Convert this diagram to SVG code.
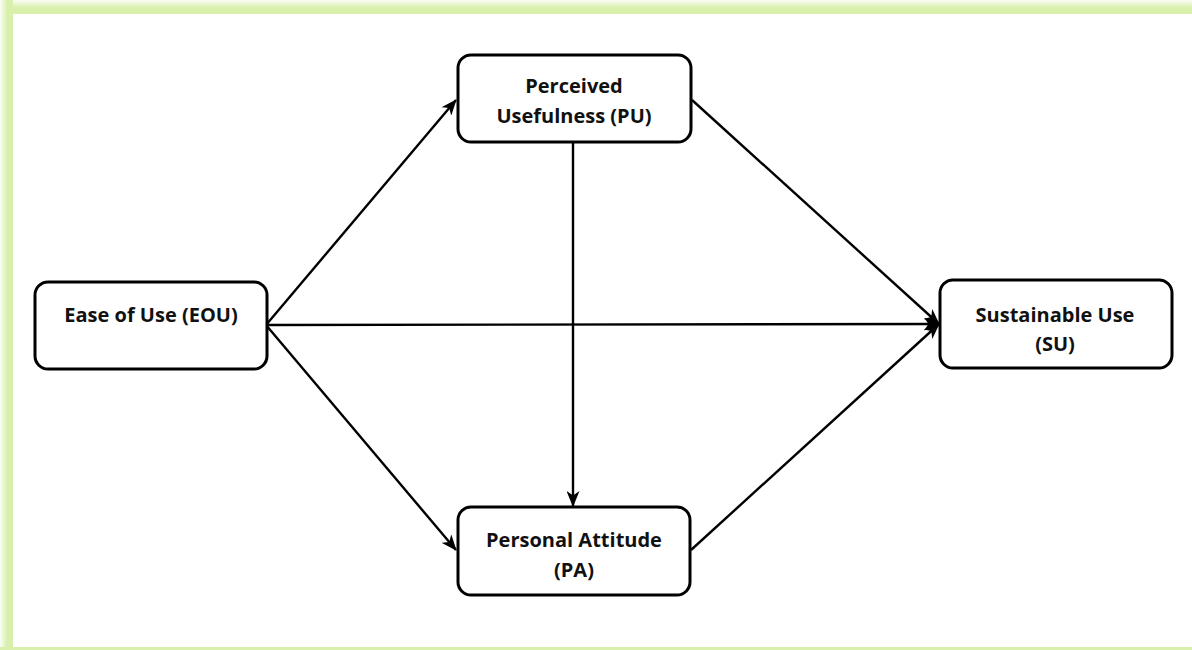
<svg xmlns="http://www.w3.org/2000/svg" width="1192" height="650" viewBox="0 0 1192 650">
<defs>
<linearGradient id="gt" x1="0" y1="0" x2="0" y2="1"><stop offset="0" stop-color="#fbfdf6"/><stop offset="0.55" stop-color="#d8f0ac"/><stop offset="1" stop-color="#d8f0ac"/></linearGradient>
<linearGradient id="gl" x1="0" y1="0" x2="1" y2="0"><stop offset="0" stop-color="#fbfdf6"/><stop offset="0.55" stop-color="#d8f0ac"/><stop offset="1" stop-color="#d8f0ac"/></linearGradient>
<marker id="arr" viewBox="0 0 16 13" markerWidth="16" markerHeight="13" refX="15" refY="6.5" orient="auto" markerUnits="userSpaceOnUse">
<path d="M0,0 L16,6.5 L0,13 L4.5,6.5 Z" fill="#000"/>
</marker>
</defs>
<style>
.node rect{fill:#fff;stroke:#000;stroke-width:3}
.node text{font-family:"Open Sans","Liberation Sans",sans-serif;font-weight:bold;font-size:20px;fill:#111;text-anchor:middle}
.conn line{stroke:#000;stroke-width:2.4;marker-end:url(#arr)}
</style>
<rect x="0" y="0" width="1192" height="650" fill="#fff"/>
<rect x="0" y="0" width="1192" height="14" fill="url(#gt)"/>
<rect x="0" y="0" width="13" height="650" fill="url(#gl)"/>
<rect x="0" y="647" width="1192" height="3" fill="#d8f0ac"/>
<rect x="13" y="14" width="1400" height="633" rx="4" fill="#fff"/>
<g class="conn">
<line x1="266" y1="325" x2="456" y2="100"/>
<line x1="266" y1="325" x2="939" y2="324"/>
<line x1="266" y1="325" x2="456" y2="550"/>
<line x1="573" y1="143" x2="573" y2="506"/>
<line x1="692" y1="100" x2="939" y2="324"/>
<line x1="691" y1="550" x2="939" y2="324"/>
</g>
<g id="pu" class="node"><rect x="458" y="55" width="233" height="87" rx="13"/><text x="574" y="93">Perceived</text><text x="574" y="123">Usefulness (PU)</text></g>
<g id="eou" class="node"><rect x="35" y="282" width="232" height="87" rx="13"/><text x="151" y="322">Ease of Use (EOU)</text></g>
<g id="su" class="node"><rect x="940" y="280" width="232" height="88" rx="13"/><text x="1055" y="322">Sustainable Use</text><text x="1055" y="351">(SU)</text></g>
<g id="pa" class="node"><rect x="458" y="507" width="232" height="88" rx="13"/><text x="574" y="547">Personal Attitude</text><text x="574" y="577">(PA)</text></g>
</svg>
